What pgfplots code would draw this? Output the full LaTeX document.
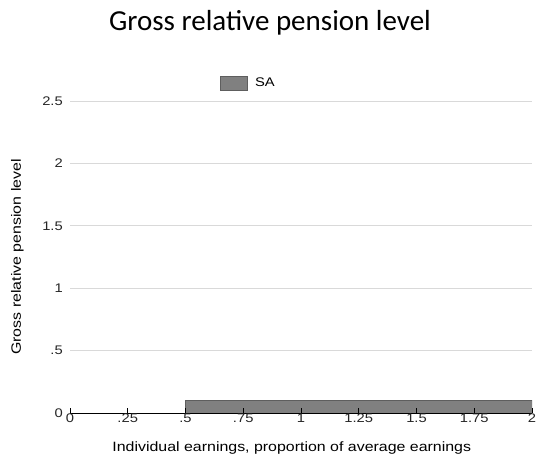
\documentclass[border=0pt]{standalone}
\usepackage{fontspec}
\setmainfont{Liberation Sans}
\newfontfamily\titlefont{Carlito}
\newfontfamily\widefont[FakeStretch=1.18]{Liberation Sans}
\usepackage{pgfplots}
\pgfplotsset{compat=1.18}
\definecolor{areafill}{HTML}{808080}
\definecolor{areadraw}{HTML}{5E5E5E}
\definecolor{gridc}{HTML}{D9D9D9}
\begin{document}
\begin{tikzpicture}
\useasboundingbox (0,0) rectangle (538bp,462bp);
\node[font=\titlefont\fontsize{29bp}{34bp}\selectfont, anchor=base, inner sep=0pt] at (270bp,431bp) {Gross relative pension level};
\begin{axis}[
  at={(70bp,49bp)}, anchor=origin,
  scale only axis, width=462bp, height=312bp,
  xmin=0, xmax=2, ymin=0, ymax=2.5,
  axis on top=true,
  separate axis lines,
  axis x line*=bottom, axis y line*=left,
  y axis line style={draw=none},
  x axis line style={black, line width=0.9pt, -},
  xtick={0,0.25,0.5,0.75,1,1.25,1.5,1.75,2},
  xticklabels={0,.25,.5,.75,1,1.25,1.5,1.75,2},
  ytick={0,0.5,1,1.5,2,2.5},
  yticklabels={0,.5,1,1.5,2,2.5},
  xtick align=inside,
  major tick length=5bp,
  x tick style={black, line width=0.9pt},
  y tick style={draw=none},
  ymajorgrids, grid style={gridc, line width=0.8pt},
  /pgf/number format/assume math mode=true,
  tick label style={font=\widefont\fontsize{12.5bp}{14bp}\selectfont, text=black!85},
  xticklabel style={inner sep=1bp},
  yticklabel style={inner sep=0pt, xshift=-7bp},
  xlabel={Individual earnings, proportion of average earnings},
  ylabel={Gross relative pension level},
  label style={font=\widefont\fontsize{13.5bp}{16bp}\selectfont},
  xlabel style={at={(axis description cs:0.48,-0.112)}, anchor=center},
  ylabel style={at={(axis description cs:-0.114,0.5)}, anchor=center},
  legend style={draw=none, fill=none, at={(axis description cs:0.325,1.058)}, anchor=west,
    font=\widefont\fontsize{12.5bp}{14bp}\selectfont, inner sep=0pt,
    nodes={inner xsep=7bp}},
  legend image code/.code={\draw[#1] (0bp,-7bp) rectangle (27bp,7bp);},
]
\addplot[fill=areafill, draw=areadraw, line width=0.8pt] coordinates {
  (0.5,0) (0.5,0.1) (2,0.1) (2,0)
};
\addlegendentry{SA}
\end{axis}
\end{tikzpicture}
\end{document}
